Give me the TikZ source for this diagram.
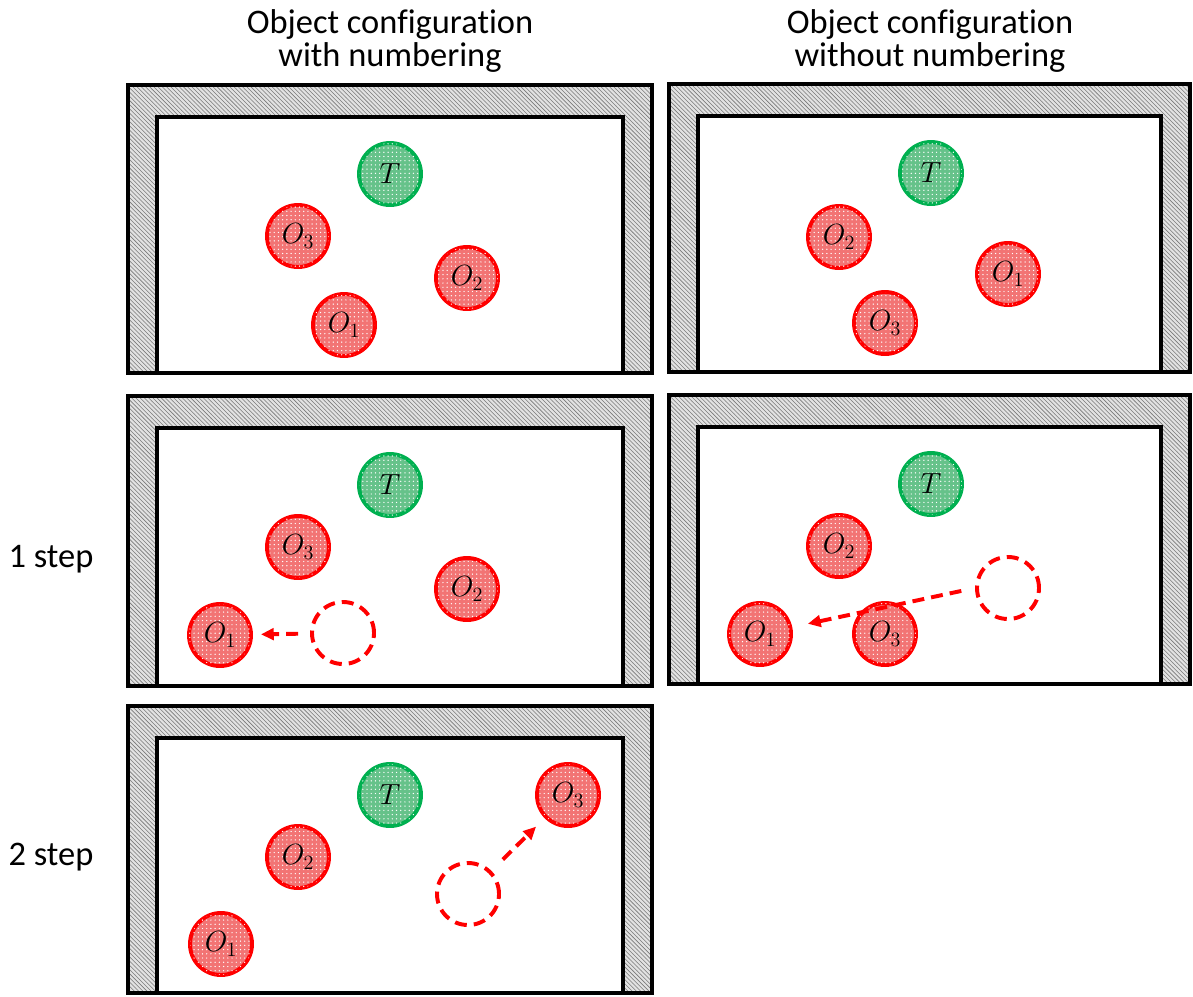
\documentclass[tikz,border=0pt]{standalone}
\usepackage{fontspec}
\setmainfont{Carlito}[Ligatures=NoCommon]
\usepackage{tikz}
\usetikzlibrary{arrows.meta,patterns}
\definecolor{objc}{HTML}{FF0000}
\definecolor{objf}{HTML}{F27474}
\definecolor{tgtc}{HTML}{00B050}
\definecolor{tgtf}{HTML}{66C28A}
\definecolor{wallf}{HTML}{E2E2E2}
\definecolor{hatchc}{HTML}{7A7A7A}
\tikzset{
  >={Triangle[length=3.2mm,width=2.9mm]},
  wall/.style={fill=wallf,postaction={pattern=north west lines,pattern color=hatchc}},
  outer/.style={draw=black,line width=3pt},
  inner/.style={draw=black,line width=3pt,fill=white},
  obj/.style={circle,draw=objc,line width=2.8pt,fill=objf,minimum size=15.5mm,inner sep=0pt,
    postaction={pattern=dots,pattern color=white},font=\fontsize{22}{22}\selectfont},
  tgt/.style={obj,draw=tgtc,fill=tgtf},
  ghost/.style={circle,draw=objc,line width=2.8pt,dash pattern=on 8.5pt off 5pt,minimum size=15.5mm,inner sep=0pt},
  move/.style={->,draw=objc,line width=2.8pt,dash pattern=on 8.5pt off 5pt},
  head/.style={font=\fontsize{24.5}{24}\selectfont,align=center},
  rowlbl/.style={font=\fontsize{24.5}{24}\selectfont,anchor=base},
}
% room: outer corner (x1,y1), outer corner (x2,y2), in px
\newcommand{\room}[4]{%
  \fill[wall] (#1,#2) rectangle (#3,#4);
  \draw[outer] (#1,#2) rectangle (#3,#4);
  \filldraw[inner] (#1+29,#2+32) rectangle (#3-29,#4);}

\begin{document}
\begin{tikzpicture}[x=0.025cm,y=-0.025cm]
  \useasboundingbox (0,0) rectangle (1193,996);
  \node[head] (h1) at (390,41) {Object configuration\\with numbering};
  \node[head] (h2) at (930,41) {Object configuration\\without numbering};
  \node[rowlbl] (s1) at (51,567) {1 step};
  \node[rowlbl] (s2) at (51,865) {2 step};
  % initial configuration
  \room{128}{85}{652}{373}
  \node[tgt] (p1-t)  at (390,174) {$T$};
  \node[obj] (p1-o3) at (298,236) {$O_3$};
  \node[obj] (p1-o2) at (467,278) {$O_2$};
  \node[obj] (p1-o1) at (344,325) {$O_1$};
  \room{669}{84}{1190}{372}
  \node[tgt] (p2-t)  at (931,173) {$T$};
  \node[obj] (p2-o2) at (839,237) {$O_2$};
  \node[obj] (p2-o1) at (1008,274) {$O_1$};
  \node[obj] (p2-o3) at (885,323) {$O_3$};
  % 1 step
  \room{128}{396}{652}{686}
  \node[tgt] (p3-t)  at (390,485) {$T$};
  \node[obj] (p3-o3) at (298,547) {$O_3$};
  \node[obj] (p3-o2) at (467,589) {$O_2$};
  \node[obj] (p3-o1) at (220,635) {$O_1$};
  \node[ghost] (p3-g) at (343,633) {};
  \draw[move,shorten <=0.3cm,shorten >=0.2cm] (p3-g) -- (p3-o1);
  \room{669}{395}{1190}{684}
  \node[tgt] (p4-t)  at (931,484) {$T$};
  \node[obj] (p4-o2) at (839,546) {$O_2$};
  \node[obj] (p4-o3) at (885,634) {$O_3$};
  \node[obj] (p4-o1) at (760,634) {$O_1$};
  \node[ghost] (p4-g) at (1008,588) {};
  \draw[move,shorten <=0.35cm,shorten >=0.4cm] (p4-g.west) -- (p4-o1);
  % 2 step
  \room{128}{706}{652}{993}
  \node[tgt] (p5-t)  at (390,795) {$T$};
  \node[obj] (p5-o2) at (298,857) {$O_2$};
  \node[obj] (p5-o1) at (221,944) {$O_1$};
  \node[obj] (p5-o3) at (568,795) {$O_3$};
  \node[ghost] (p5-g) at (468,894) {};
  \draw[move,shorten <=0.4cm,shorten >=0.3cm] (p5-g) -- (p5-o3);
\end{tikzpicture}
\end{document}
